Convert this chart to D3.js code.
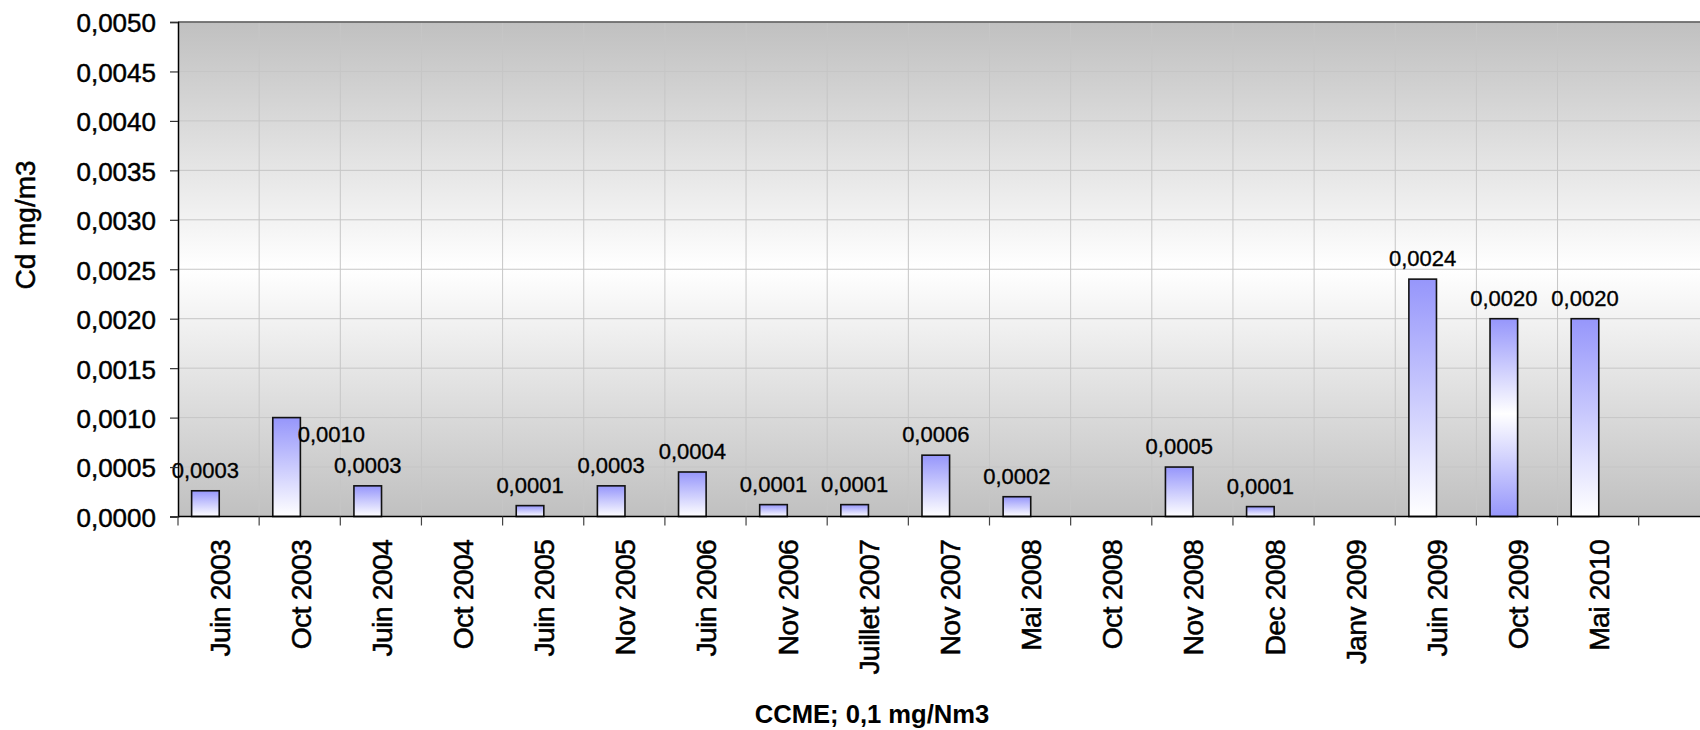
<!DOCTYPE html>
<html>
<head>
<meta charset="utf-8">
<script src="https://cdn.jsdelivr.net/npm/d3@7"></script>
<style>
  html, body { margin: 0; padding: 0; background: #fff; }
  svg { display: block; font-family: "Liberation Sans", Arial, Helvetica, sans-serif; }
</style>
</head>
<body>
<svg id="chart" width="1700" height="730"></svg>
<script>
// ---- data ----
const categories = ["Juin 2003", "Oct 2003", "Juin 2004", "Oct 2004", "Juin 2005", "Nov 2005",
  "Juin 2006", "Nov 2006", "Juillet 2007", "Nov 2007", "Mai 2008", "Oct 2008",
  "Nov 2008", "Dec 2008", "Janv 2009", "Juin 2009", "Oct 2009", "Mai 2010"];
const values = [0.00026, 0.0010, 0.00031, null, 0.00011, 0.00031,
  0.00045, 0.00012, 0.00012, 0.00062, 0.00020, null,
  0.00050, 0.00010, null, 0.0024, 0.0020, 0.0020];
const yTicks = [0, 0.0005, 0.0010, 0.0015, 0.0020, 0.0025, 0.0030, 0.0035, 0.0040, 0.0045, 0.0050];
const yTitle = "Cd mg/m3";
const xTitle = "CCME; 0,1 mg/Nm3";

(function () {
// ---- layout ----
const svg = d3.select("#chart");
const pLeft = 178, pTop = 22, pBottom = 516.5, pRight = 1700;
const step = 81.15;
const x = d3.scaleBand().domain(categories).range([pLeft, pLeft + step * categories.length]).paddingInner(0).paddingOuter(0);
const y = d3.scaleLinear().domain([0, 0.005]).range([pBottom, pTop]);
const fmt = d => d.toFixed(4).replace(".", ",");

const defs = svg.append("defs");
const bg = defs.append("linearGradient").attr("id", "bg").attr("x1", 0).attr("y1", 0).attr("x2", 0).attr("y2", 1);
bg.append("stop").attr("offset", "0%").attr("stop-color", "#c0c0c0");
bg.append("stop").attr("offset", "50%").attr("stop-color", "#ffffff");
bg.append("stop").attr("offset", "100%").attr("stop-color", "#c0c0c0");

const gBar = defs.append("linearGradient").attr("id", "barG").attr("x1", 0).attr("y1", 0).attr("x2", 0).attr("y2", 1);
gBar.append("stop").attr("offset", "0%").attr("stop-color", "#9696fb");
gBar.append("stop").attr("offset", "100%").attr("stop-color", "#ffffff");

const gBar2 = defs.append("linearGradient").attr("id", "barG2").attr("x1", 0).attr("y1", 0).attr("x2", 0).attr("y2", 1);
gBar2.append("stop").attr("offset", "0%").attr("stop-color", "#9696fb");
gBar2.append("stop").attr("offset", "48%").attr("stop-color", "#ffffff");
gBar2.append("stop").attr("offset", "100%").attr("stop-color", "#9696fb");

// plot background
svg.append("rect").attr("x", pLeft).attr("y", pTop).attr("width", pRight - pLeft).attr("height", pBottom - pTop).attr("fill", "url(#bg)");

// horizontal gridlines
svg.append("g").selectAll("line").data(yTicks.slice(1)).join("line")
  .attr("x1", pLeft).attr("x2", pRight)
  .attr("y1", d => y(d)).attr("y2", d => y(d))
  .attr("stroke", "#c6c6c6").attr("stroke-width", 1);

// vertical gridlines at category boundaries
svg.append("g").selectAll("line").data(categories.slice(1)).join("line")
  .attr("x1", d => x(d)).attr("x2", d => x(d))
  .attr("y1", pTop).attr("y2", pBottom)
  .attr("stroke", "#c6c6c6").attr("stroke-width", 1);

// top border
svg.append("line").attr("x1", pLeft).attr("x2", pRight).attr("y1", pTop).attr("y2", pTop)
  .attr("stroke", "#5a5a5a").attr("stroke-width", 1.5);

// bars
const bw = x.bandwidth();
const bars = categories.map((c, i) => ({ c, i, v: values[i] })).filter(d => d.v != null);
svg.append("g").selectAll("rect").data(bars).join("rect")
  .attr("x", d => x(d.c) + bw * 0.168)
  .attr("width", bw * 0.34)
  .attr("y", d => y(d.v))
  .attr("height", d => y(0) - y(d.v))
  .attr("fill", d => d.c === "Oct 2009" ? "url(#barG2)" : "url(#barG)")
  .attr("stroke", "#111").attr("stroke-width", 1.6);

// data labels
svg.append("g").selectAll("text").data(bars).join("text")
  .attr("x", d => d.c === "Oct 2003" ? x(d.c) + bw * 0.5 - 2 : x(d.c) + bw * 0.168 + bw * 0.17)
  .attr("y", d => d.c === "Oct 2003" ? y(d.v) + 24 : y(d.v) - 13)
  .attr("text-anchor", d => d.c === "Oct 2003" ? "start" : "middle")
  .attr("font-size", "22px").attr("fill", "#000")
  .attr("stroke", "#000").attr("stroke-width", 0.35)
  .text(d => fmt(d.v));

// y axis
const yAxis = svg.append("g").attr("transform", `translate(${pLeft},0)`)
  .call(d3.axisLeft(y).tickValues(yTicks).tickFormat(fmt).tickSize(8).tickPadding(14));
yAxis.select(".domain").attr("stroke", "#000").attr("stroke-width", 1.5);
yAxis.selectAll(".tick line").attr("stroke", "#333").attr("stroke-width", 1.2);
yAxis.selectAll(".tick text").attr("font-size", "26px").attr("fill", "#000")
  .attr("stroke", "#000").attr("stroke-width", 0.45)
  .attr("font-family", "Liberation Sans, Arial, sans-serif").attr("dy", "0.38em");

// x axis line and ticks
svg.append("line").attr("x1", pLeft).attr("x2", pRight).attr("y1", pBottom).attr("y2", pBottom)
  .attr("stroke", "#000").attr("stroke-width", 1.5);
svg.append("g").selectAll("line").data(categories.concat(["__end"])).join("line")
  .attr("x1", (d, i) => pLeft + i * bw).attr("x2", (d, i) => pLeft + i * bw)
  .attr("y1", pBottom).attr("y2", pBottom + 9)
  .attr("stroke", "#444").attr("stroke-width", 1.2);

svg.append("g").selectAll("text").data(categories).join("text")
  .attr("transform", d => `translate(${x(d) + bw / 2 + 11},${540}) rotate(-90)`)
  .attr("text-anchor", "end")
  .attr("font-size", "28.5px").attr("letter-spacing", "-0.8px").attr("fill", "#000")
  .attr("stroke", "#000").attr("stroke-width", 0.5)
  .text(d => d);

// axis titles
svg.append("text")
  .attr("transform", `translate(35,225) rotate(-90)`)
  .attr("text-anchor", "middle").attr("font-size", "28px")
  .attr("stroke", "#000").attr("stroke-width", 0.5)
  .text(yTitle);
svg.append("text")
  .attr("x", 872).attr("y", 723)
  .attr("text-anchor", "middle").attr("font-size", "25.6px").attr("font-weight", "bold")
  .text(xTitle);
})();
</script>
</body>
</html>
